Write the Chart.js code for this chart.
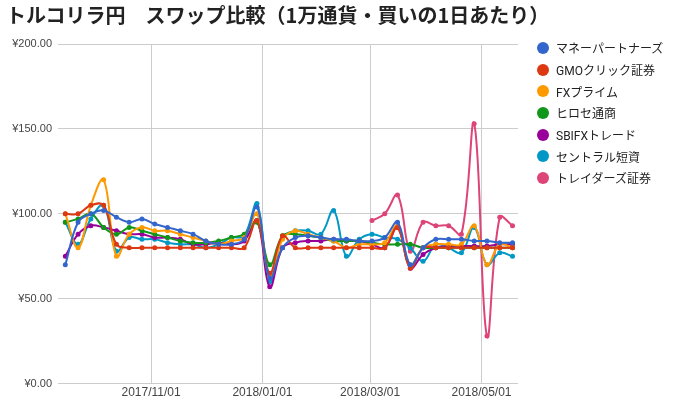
<!DOCTYPE html>
<html lang="ja">
<head>
<meta charset="UTF-8" />
<title>トルコリラ円 スワップ比較</title>
<script src="https://cdn.jsdelivr.net/npm/chart.js"></script>
<style>
  body { margin: 0; background: #fff; font-family: Roboto, 'Noto Sans CJK JP', sans-serif; }
  h1 { position: absolute; left: 6px; top: 0px; margin: 0; font-size: 20px; font-weight: bold; color: #222;
       font-family: 'Noto Sans CJK JP', sans-serif; white-space: nowrap; }
  #chart { position: absolute; left: 0; top: 0; }
  #legend { position: absolute; left: 537px; top: 37px; font-size: 12px; color: #222; }
  #legend div { height: 21.7px; display: flex; align-items: center; }
  #legend span { display: inline-block; width: 12px; height: 12px; border-radius: 50%; margin-right: 7px; }
</style>
</head>
<body>
<canvas id="chart" width="678" height="404"></canvas>
<h1>トルコリラ円　スワップ比較（1万通貨・買いの1日あたり）</h1>
<div id="legend"></div>
<script>
  // weekly points, day offsets from 2017-09-12
  const startDate = Date.UTC(2017, 8, 12);
  const weeks = Array.from({length: 36}, (_, i) => 3 + 7 * i);
  const tickDates = ["2017/11/01", "2018/01/01", "2018/03/01", "2018/05/01"];

  const names = ["マネーパートナーズ", "GMOクリック証券", "FXプライム", "ヒロセ通商", "SBIFXトレード", "セントラル短資", "トレイダーズ証券"];
  const colors = ["#3366cc", "#dc3912", "#ff9900", "#109618", "#990099", "#0099c6", "#dd4477"];

  const moneyPartners = [70,95,100,102,98,95,97,94,92,90,88,84,82,82,85,104,62,80,86,87,86,85,85,84,84,86,95,70,80,85,85,85,84,84,83,83];
  const gmo = [100,100,105,105,82,80,80,80,80,80,80,80,80,80,80,96,65,87,80,80,80,80,80,80,80,80,92,68,80,80,80,80,80,80,80,80];
  const fxPrime = [100,80,105,120,75,88,92,90,90,88,86,84,82,84,86,100,63,85,90,88,86,84,80,82,82,83,93,70,80,82,82,82,93,70,82,80];
  const hirose = [95,97,100,92,88,92,90,88,86,84,83,83,84,86,88,95,70,87,88,87,86,84,84,84,83,82,82,82,80,80,80,80,80,80,80,80];
  const sbi = [75,88,93,92,90,88,88,86,86,85,82,82,83,82,84,96,57,80,83,84,84,85,84,84,82,80,92,68,76,80,81,81,81,81,82,82];
  const central = [95,82,97,105,78,86,85,85,83,82,82,80,82,86,87,106,60,86,90,90,88,102,75,85,88,86,85,80,72,82,80,77,92,70,77,75];
  const traders = [null,null,null,null,null,null,null,null,null,null,null,null,null,null,null,null,null,null,null,null,null,null,null,null,96,100,111,78,95,93,93,88,153,28,98,93];

  const series = [moneyPartners, gmo, fxPrime, hirose, sbi, central, traders];

  function dayOf(s) {
    const [y, m, d] = s.split("/").map(Number);
    return (Date.UTC(y, m - 1, d) - startDate) / 86400000;
  }
  const tickDays = tickDates.map(dayOf);

  document.getElementById("legend").innerHTML = names.map((n, k) =>
    `<div><span style="background:${colors[k]}"></span>${n}</div>`).join("");

  new Chart(document.getElementById("chart"), {
    type: "line",
    data: {
      datasets: series.map((vals, k) => ({
        label: names[k],
        data: vals.map((v, i) => ({x: weeks[i], y: v})),
        borderColor: colors[k],
        backgroundColor: colors[k],
        borderWidth: 2,
        pointRadius: 1.5,
        tension: 0.4,
        spanGaps: false
      }))
    },
    options: {
      animation: false,
      responsive: false,
      layout: { padding: { left: 2, right: 160, top: 44, bottom: 2 } },
      plugins: { legend: { display: false }, tooltip: { enabled: false } },
      scales: {
        x: {
          type: "linear", min: -1, max: 251,
          afterBuildTicks: axis => { axis.ticks = tickDays.map(v => ({value: v})); },
          ticks: { callback: (v, i) => tickDates[i], font: { size: 12 }, color: "#444", maxRotation: 0, padding: 2 },
          grid: { color: "#ccc", drawTicks: false },
          border: { display: false }
        },
        y: {
          min: 0, max: 200,
          afterFit: axis => { axis.width = 56; },
          ticks: { stepSize: 50, callback: v => "¥" + v.toFixed(2), font: { size: 11 }, color: "#444", padding: 6 },
          grid: { color: "#ccc", drawTicks: false },
          border: { display: false }
        }
      }
    }
  });
</script>
</body>
</html>
